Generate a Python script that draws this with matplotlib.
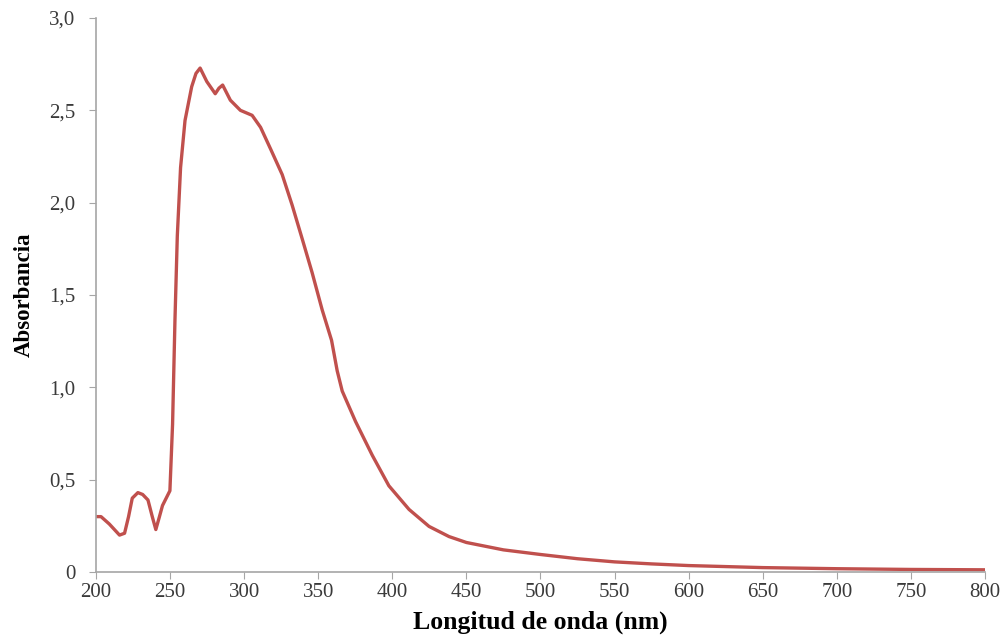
import matplotlib
matplotlib.use("Agg")
import matplotlib.pyplot as plt

# espectro UV-Vis
wavelength = [200, 203.4, 209, 215.9, 219.3, 222, 224.5, 228.3, 231.5, 235.1, 238, 240.4, 242.5,
              244.9, 249.9, 251.7, 253.3, 254.9, 257.1, 260.1, 264.6, 267.5, 270.3, 274.8, 280.5,
              283, 285.5, 290.7, 297.5, 305.4, 311.1, 317.9, 325.7, 332.4, 339.2, 345.9,
              352.7, 359, 362.8, 366.2, 375.2, 386.5, 397.7, 411.3, 424.8, 438.3, 450,
              475, 500, 525, 550, 575, 600, 650, 700, 750, 800]
absorbance = [0.30, 0.30, 0.26, 0.20, 0.21, 0.30, 0.40, 0.43, 0.42, 0.39, 0.30, 0.23, 0.29,
              0.36, 0.44, 0.80, 1.36, 1.82, 2.19, 2.445, 2.628, 2.70, 2.729, 2.656, 2.59,
              2.62, 2.637, 2.555, 2.50, 2.473, 2.408, 2.29, 2.152, 1.987, 1.804, 1.621,
              1.419, 1.255, 1.09, 0.98, 0.815, 0.632, 0.467, 0.339, 0.247, 0.192, 0.16,
              0.12, 0.095, 0.072, 0.055, 0.044, 0.035, 0.024, 0.018, 0.014, 0.012]

x_ticks = [200, 250, 300, 350, 400, 450, 500, 550, 600, 650, 700, 750, 800]
y_ticks = [0, 0.5, 1.0, 1.5, 2.0, 2.5, 3.0]
y_labels = ["0", "0,5", "1,0", "1,5", "2,0", "2,5", "3,0"]

plt.rcParams['font.family'] = ['Liberation Serif', 'DejaVu Serif']

fig = plt.figure(figsize=(10.07, 6.41), dpi=100)
ax = fig.add_axes([0.0953, 0.1076, 0.8828, 0.8643])

ax.plot(wavelength, absorbance, color='#c0504d', linewidth=2.4,
        solid_joinstyle='round', solid_capstyle='round')

ax.set_xlim(200, 800)
ax.set_ylim(0, 3.0)
ax.set_xticks(x_ticks)
ax.set_yticks(y_ticks)
ax.set_yticklabels(y_labels)

for s in ['top', 'right']:
    ax.spines[s].set_visible(False)
for s in ['left', 'bottom']:
    ax.spines[s].set_color('#a6a6a6')
    ax.spines[s].set_linewidth(1.2)
ax.tick_params(axis='both', direction='out', length=5, color='#a6a6a6',
               labelsize=15, labelcolor='#3a3a3a')
ax.tick_params(axis='y', pad=10)
ax.tick_params(axis='x', pad=3)

ax.set_xlabel('Longitud de onda (nm)', fontsize=18.5, fontweight='bold', labelpad=6)
ax.set_ylabel('Absorbancia', fontsize=16.5, fontweight='bold', labelpad=10)

fig.savefig('out.png', dpi=100)
